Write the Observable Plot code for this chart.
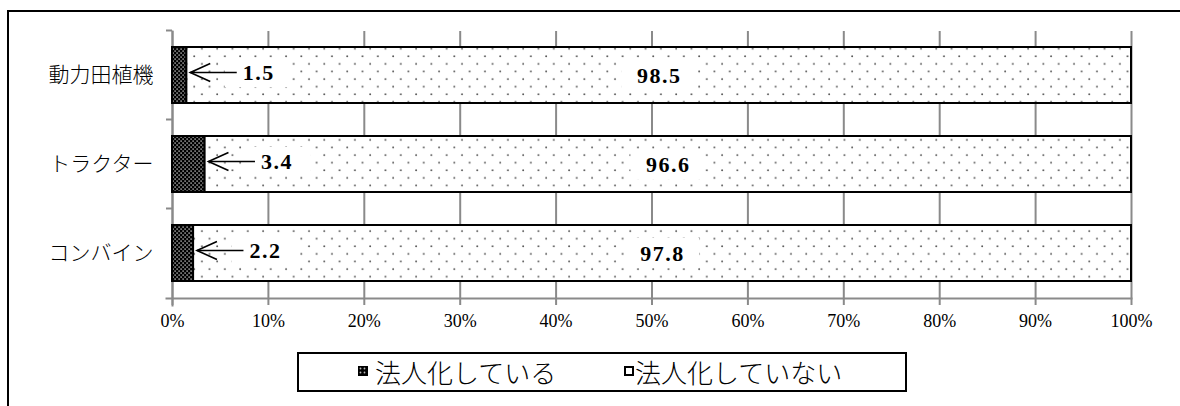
<!DOCTYPE html>
<html><head><meta charset="utf-8">
<script src="https://cdn.jsdelivr.net/npm/d3@7"></script>
<script src="https://cdn.jsdelivr.net/npm/@observablehq/plot@0.6"></script>
<style>
html,body{margin:0;padding:0;background:#fff;width:1180px;height:406px;overflow:hidden;}
#wrap{position:relative;width:1180px;height:406px;}
#frame{position:absolute;left:7px;top:10px;width:1300px;height:600px;border:2px solid #000;box-sizing:border-box;}
#chart{position:absolute;left:0;top:0;}
#legend{position:absolute;left:297px;top:352px;width:610px;height:40px;border:2px solid #000;box-sizing:border-box;background:#fff;font-family:"Noto Sans CJK JP";font-weight:300;font-size:26px;color:#000;}
#legend .sw{position:absolute;top:12px;width:10px;height:10px;}
#legend .tx{position:absolute;top:0;line-height:36px;white-space:nowrap;}
g[aria-label="text"] text{letter-spacing:1.5px;}
</style></head>
<body>
<svg width="0" height="0" style="position:absolute">
<defs>
<pattern id="pDark" patternUnits="userSpaceOnUse" width="4" height="4"><rect width="4" height="4" fill="#000"/><rect x="0.4" y="0.4" width="1.4" height="1.4" fill="#b8b8b8"/><rect x="2.4" y="2.4" width="1.4" height="1.4" fill="#b8b8b8"/></pattern>
<pattern id="pLight" patternUnits="userSpaceOnUse" width="15.3" height="15.2"><rect width="15.3" height="15.2" fill="#fff"/><circle cx="3" cy="3" r="0.95" fill="#555"/><circle cx="10.65" cy="10.6" r="0.95" fill="#555"/></pattern>
</defs></svg>
<div id="wrap">
  <div id="frame"></div>
  <div id="chart"></div>
  <div id="legend"></div>
</div>
<script>
const categories = ["動力田植機", "トラクター", "コンバイン"];
const series = ["法人化している", "法人化していない"];
const incorporated = [1.5, 3.4, 2.2];
const notIncorporated = [98.5, 96.6, 97.8];
const xTicks = [0, 10, 20, 30, 40, 50, 60, 70, 80, 90, 100];

const rows = categories.flatMap((c, i) => [
  {cat: c, series: series[0], value: incorporated[i]},
  {cat: c, series: series[1], value: notIncorporated[i]}
]);
const smallLabels = categories.map((c, i) => ({cat: c, v: incorporated[i]}));
const bigLabels = categories.map((c, i) => ({cat: c, v: notIncorporated[i], mid: incorporated[i] + notIncorporated[i] / 2}));

const gray = "#8a8a8a";
const numFont = "Liberation Serif";

// open "<" arrowhead symbol
const headSymbol = {
  draw(context) {
    context.moveTo(20, -9);
    context.lineTo(0, 0);
    context.lineTo(20, 9);
  }
};

const plot = Plot.plot({
  width: 1180, height: 340,
  marginLeft: 172, marginRight: 49, marginTop: 31, marginBottom: 42,
  style: {background: "transparent", color: "#000"},
  x: {domain: [0, 100]},
  y: {domain: categories, paddingInner: 0.37, paddingOuter: 0.185},
  color: {domain: series, range: ["url(#pDark)", "url(#pLight)"]},
  marks: [
    Plot.gridX(xTicks, {stroke: gray, strokeOpacity: 1, strokeWidth: 2}),
    Plot.frame({anchor: "left", stroke: gray, strokeWidth: 2, insetBottom: -7}),
    Plot.frame({anchor: "bottom", stroke: gray, strokeWidth: 2, insetLeft: -6}),
    Plot.axisX(xTicks, {tickSize: 7, tickPadding: 9, stroke: gray, strokeWidth: 2, tickFormat: d => d + "%", fontSize: 18, fontFamily: numFont, fill: "#000", label: null}),
    Plot.axisY({tickSize: 0, tickPadding: 19, fontSize: 21, fontFamily: "Noto Sans CJK JP", fontWeight: 300, fill: "#000", label: null}),
    Plot.barX(rows, {x: "value", y: "cat", fill: "series", stroke: "#000", strokeWidth: 2, order: series}),
    Plot.barX(bigLabels, {x1: d => d.mid - 3.9, x2: d => d.mid + 3.9, y: "cat", insetTop: 13, insetBottom: 13, fill: "#fff"}),
    Plot.barX(smallLabels, {x1: d => d.v + 7.5 - 3.5, x2: d => d.v + 7.5 + 3.5, y: "cat", insetTop: 11, insetBottom: 16, fill: "#fff"}),
    Plot.text(bigLabels, {x: "mid", y: "cat", text: d => d.v.toFixed(1), fontSize: 22, fontWeight: "bold", fontFamily: numFont, fill: "#000"}),
    Plot.text(smallLabels, {x: d => d.v + 7.5, y: "cat", dy: -3, text: d => d.v.toFixed(1), fontSize: 22, fontWeight: "bold", fontFamily: numFont, fill: "#000"}),
    Plot.link(smallLabels, {x1: d => d.v + 5.2, x2: d => d.v + 0.35, y1: "cat", y2: "cat", dy: -3, stroke: "#000", strokeWidth: 1.6}),
    Plot.dot(smallLabels, {x: d => d.v + 0.35, y: "cat", dy: -3, symbol: headSymbol, r: 5, fill: "none", stroke: "#000", strokeWidth: 1.6})
  ]
});
document.getElementById("chart").appendChild(plot);

// category boundary ticks on the y axis
const ys = plot.scale("y");
const gap = (ys.step - ys.bandwidth) / 2;
d3.select(plot).append("g")
  .selectAll("line").data(categories).join("line")
  .attr("x1", 166).attr("x2", 172)
  .attr("y1", d => ys.apply(d) - gap).attr("y2", d => ys.apply(d) - gap)
  .attr("stroke", gray).attr("stroke-width", 2);

// legend
const legend = d3.select("#legend");
const sw1 = legend.append("svg").attr("class", "sw").style("left", "59px").attr("width", 10).attr("height", 10);
sw1.append("rect").attr("width", 10).attr("height", 10).attr("fill", "#000");
[[2.5,2.5],[6.5,2.5],[2.5,6.5],[6.5,6.5]].forEach(([cx, cy]) => sw1.append("circle").attr("cx", cx).attr("cy", cy).attr("r", 0.9).attr("fill", "#bbb"));
legend.append("span").attr("class", "tx").style("left", "76px").text(series[0]);
const sw2 = legend.append("svg").attr("class", "sw").style("left", "325px").attr("width", 10).attr("height", 10);
sw2.append("rect").attr("x", 1).attr("y", 1).attr("width", 8).attr("height", 8).attr("fill", "#fff").attr("stroke", "#000").attr("stroke-width", 2);
legend.append("span").attr("class", "tx").style("left", "336px").text(series[1]);
</script>
</body></html>
